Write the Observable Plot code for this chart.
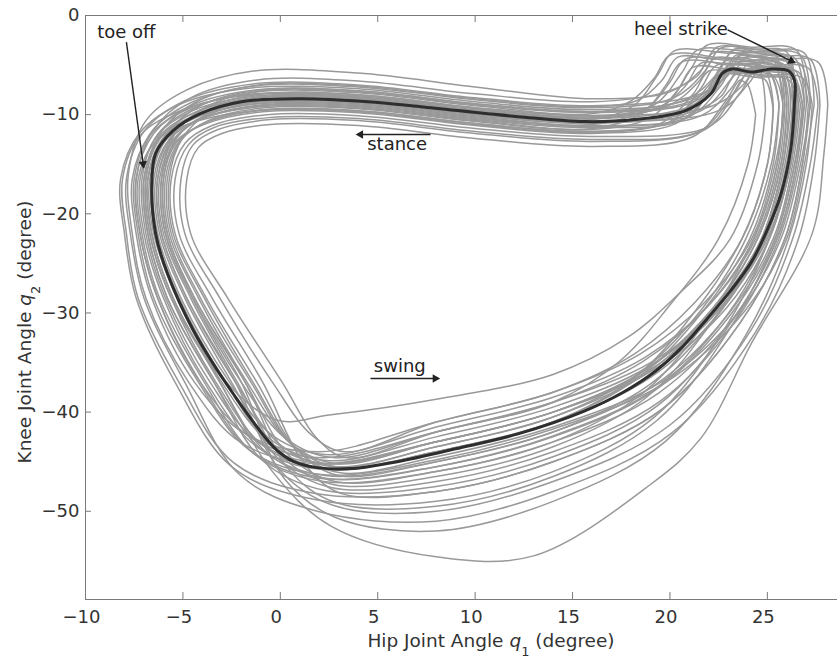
<!DOCTYPE html>
<html>
<head>
<meta charset="utf-8">
<script src="https://cdn.jsdelivr.net/npm/d3@7"></script>
<script src="https://cdn.jsdelivr.net/npm/@observablehq/plot@0.6"></script>
<style>
  html, body { margin: 0; padding: 0; background: #fff; overflow: hidden; }
</style>
</head>
<body>
<div id="chart"></div>
<script>
// ---- axis set-up ----
const xTicks = [-10, -5, 0, 5, 10, 15, 20, 25];
const yTicks = [0, -10, -20, -30, -40, -50];
const xDomain = [-10, 28.6];
const yDomain = [-58.9, 0];

// ---- annotations ----
const noteLabels = ["toe off", "heel strike", "stance", "swing"];
const noteX = [-9.4, 18.15, 4.46, 4.8];
const noteY = [-1.66, -1.43, -13.03, -35.35];
const arrowFromX = [-7.90, 22.96, 7.71, 4.63];
const arrowFromY = [-2.69, -1.44, -12.0, -36.61];
const arrowHeadX = [-7.04, 26.23, 4.12, 7.95];
const arrowHeadY = [-14.96, -4.59, -12.0, -36.61];
const arrowAngle = [172.2, 116.0, 270, 90];

// ---- mean gait cycle (dark curve) [hip q1, knee q2] ----
const meanCycle = [[26.4,-8.5],[26.4,-6.6],[26.1,-5.6],[25.2,-5.4],[24.2,-5.7],[23.2,-5.4],[22.7,-5.8],[22.1,-7.9],[20.8,-9.6],[18.2,-10.5],[15.6,-10.7],[12.2,-10.2],[7.2,-9.2],[4.5,-8.7],[1,-8.4],[-2,-8.7],[-4.1,-9.9],[-5.5,-11.6],[-6.4,-13.9],[-6.6,-17.3],[-6.4,-22],[-5.8,-26],[-4.45,-31.8],[-2.4,-38.2],[-0.3,-43.6],[0.7,-45],[1.9,-45.6],[3.6,-45.7],[6,-45.0],[9,-43.7],[12.2,-42.2],[15.6,-39.9],[17.6,-38.0],[19.3,-35.8],[20.7,-33.3],[21.9,-30.6],[23.1,-27.8],[24.2,-24.8],[25.0,-21.6],[25.7,-18],[26.2,-13.5],[26.4,-8.5]];

// ---- individual gait cycles (gray curves) ----
const cycle01 = [[26.4,-9],[25.9,-5.0],[24.4,-4.7],[22.9,-4.5],[22.1,-6.8],[20.5,-9.7],[16,-10.7],[10,-9.9],[4,-8.6],[-1,-8.5],[-4.1,-9.9],[-5.8,-12.3],[-6.6,-16.5],[-6.4,-22],[-5.2,-28.5],[-2.8,-37],[-0.4,-43.5],[2.5,-45.8],[8,-44],[14,-41],[19,-36.5],[22.6,-29.8],[24.9,-22.5],[26,-15],[26.4,-9]];
const cycle02 = [[25.8,-9],[25.3,-4.5],[24.3,-4.2],[23.4,-4.0],[22.6,-6.3],[21.0,-8.7],[16,-9.7],[10,-8.9],[4,-7.6],[-1.2,-7.5],[-4.6,-9.1],[-6.5,-11.9],[-7.4,-16.5],[-7.2,-22],[-6.3,-28.5],[-4.1,-37],[-1.4,-42.7],[2.1,-44.6],[8,-42],[14,-39],[18.6,-34.9],[22,-29.2],[24.3,-22.5],[25.5,-15],[25.8,-9]];
const cycle03 = [[26.9,-9],[26.4,-5.5],[24.5,-5.2],[22.4,-5.0],[21.6,-7.3],[20.0,-10.7],[16,-11.7],[10,-10.9],[4,-9.6],[-0.8,-9.5],[-3.7,-10.7],[-5.3,-12.7],[-6.0,-16.5],[-5.8,-22],[-4.4,-28.5],[-1.8,-37],[0.4,-44.3],[2.8,-47.0],[8,-46],[14,-43],[19.4,-38.1],[23.3,-30.4],[25.5,-22.5],[26.5,-15],[26.9,-9]];
const cycle04 = [[27.2,-9],[26.7,-4.0],[24.2,-3.7],[21.4,-3.5],[20.6,-5.8],[19.2,-9.0],[16,-10.2],[10,-9.4],[4,-8.1],[-1.5,-8.0],[-5.0,-9.5],[-7.2,-12.1],[-8.1,-16.5],[-7.9,-22],[-7.3,-28.5],[-5.2,-37],[-2.4,-45.1],[1.8,-48.2],[8,-48],[14,-45],[19.6,-39.7],[23.6,-31.0],[25.9,-22.5],[26.8,-15],[27.2,-9]];
const cycle05 = [[25.3,-9.5],[24.9,-6.5],[24.3,-6.2],[23.9,-6.0],[23.1,-8.3],[21.5,-11.7],[16,-12.7],[10,-11.9],[4,-10.6],[-0.5,-10.5],[-3.2,-11.5],[-4.5,-13.1],[-5.1,-16.5],[-4.9,-22],[-3.1,-28.5],[-0.4,-37],[1.6,-42.3],[3.3,-44.0],[8,-41],[14,-38],[18.2,-34.1],[21.3,-28.9],[23.7,-22.5],[25,-15],[25.3,-9.5]];
const cycle06 = [[26.5,-9],[26.0,-3.7],[24.2,-3.4],[22.4,-3.2],[21.6,-5.5],[20.0,-7.7],[16,-8.4],[10,-7.2],[4,-5.8],[-1.4,-5.6],[-4.8,-7.5],[-6.9,-10.6],[-7.8,-16.0],[-7.6,-22],[-6.9,-28.5],[-4.7,-37],[-2.0,-43.1],[1.9,-45.2],[8,-43],[14,-40],[19,-35.7],[22.6,-29.5],[24.9,-22.5],[26,-15],[26.5,-9]];
const cycle07 = [[27.6,-9],[27.1,-5.3],[25.3,-5.0],[23.4,-4.8],[22.6,-7.1],[21.0,-10.2],[16,-11.2],[10,-10.4],[4,-9.1],[-0.9,-9.0],[-3.9,-10.3],[-5.5,-12.5],[-6.3,-16.5],[-6.1,-22],[-4.8,-28.5],[-2.3,-37],[0,-45.9],[2.7,-49.4],[8,-50],[14,-47],[20,-41.3],[24.2,-31.6],[26.3,-22.5],[27.2,-15],[27.6,-9]];
const cycle08 = [[24.9,-9.5],[24.4,-4.7],[22.2,-4.4],[20.4,-4.2],[19.6,-6.5],[18.4,-8.5],[16,-9.2],[10,-8.4],[4,-7.1],[-1.1,-7.0],[-4.3,-8.7],[-6.1,-11.7],[-6.9,-16.5],[-6.7,-22],[-5.6,-28.5],[-3.0,-36.5],[-0.2,-40.8],[2.5,-40.3],[8,-38.7],[14,-36.2],[17.8,-32.5],[20.6,-27.8],[23.1,-22.5],[24.5,-15],[24.9,-9.5]];
const cycle09 = [[26.7,-9],[26.2,-6.0],[25.3,-5.7],[24.4,-5.5],[23.6,-7.8],[22.0,-11.2],[16,-12.2],[10,-11.4],[4,-10.1],[-0.7,-10.0],[-3.5,-11.1],[-4.9,-12.9],[-5.6,-16.5],[-5.4,-22],[-3.8,-28.5],[-1.2,-37],[0.9,-43.9],[3.0,-46.4],[8,-45],[14,-42],[19.2,-37.3],[23,-30.1],[25.3,-22.5],[26.3,-15],[26.7,-9]];
const cycle10 = [[26.0,-9],[25.5,-4.6],[22.8,-4.3],[20.0,-4.0],[19.2,-6.3],[18.0,-8.6],[16,-9.9],[10,-9.1],[4,-7.8],[-1.2,-7.7],[-4.4,-9.3],[-6.3,-12.0],[-7.1,-16.5],[-6.9,-22],[-5.9,-28.5],[-3.6,-37],[-1.1,-43.1],[2.3,-45.2],[8,-43],[14,-40],[18.8,-35.7],[22.2,-29.5],[24.5,-22.5],[25.7,-15],[26.0,-9]];
const cycle11 = [[24.4,-10],[24.0,-7.0],[23.8,-6.7],[23.6,-6.5],[22.8,-8.8],[21.2,-12.2],[16,-13.2],[10,-12.4],[4,-11.1],[-0.5,-11.0],[-3.0,-11.9],[-4.2,-13.3],[-4.8,-16.5],[-4.6,-22],[-2.7,-28.5],[0.1,-37],[1.9,-42.7],[3.4,-44.6],[8,-42],[14,-39],[17.4,-34.9],[20,-29.2],[22.5,-22.5],[24,-15],[24.4,-10]];
const cycle12 = [[27,-9],[26.5,-3.5],[24.2,-3.2],[21.9,-3.0],[21.1,-5.3],[19.7,-9.0],[16,-10.4],[10,-9.6],[4,-8.3],[-0.9,-8.2],[-4.0,-9.7],[-5.6,-12.2],[-6.4,-16.5],[-6.2,-22],[-4.9,-28.5],[-2.5,-37],[-0.1,-44.7],[2.6,-47.6],[8,-47],[14,-44],[19.5,-38.9],[23.4,-30.7],[25.6,-22.5],[26.6,-15],[27,-9]];
const cycle13 = [[26.5,-9],[26.0,-4.1],[24.6,-3.8],[23.2,-3.6],[22.4,-5.9],[20.8,-8.5],[16,-9.5],[10,-8.7],[4,-7.4],[-1.5,-7.3],[-5.1,-8.9],[-7.2,-11.8],[-8.2,-16.5],[-8.0,-22],[-7.4,-28.5],[-5.4,-37],[-2.5,-45.5],[1.7,-48.8],[8,-49],[14,-46],[19.2,-40.5],[22.9,-31.3],[25.1,-22.5],[26.2,-15],[26.5,-9]];
const cycle14 = [[25.6,-9],[25.1,-5.7],[23.0,-5.4],[21.2,-5.2],[20.4,-7.5],[19.0,-10.3],[16,-11.5],[10,-10.7],[4,-9.4],[-0.8,-9.3],[-3.6,-10.5],[-5.1,-12.6],[-5.8,-16.5],[-5.6,-22],[-4.1,-28.5],[-1.5,-37],[0.6,-43.3],[2.9,-45.5],[8,-43.5],[14,-40.5],[18.4,-36.1],[21.6,-29.7],[23.9,-22.5],[25.2,-15],[25.6,-9]];
const cycle15 = [[28.1,-9],[27.6,-4.7],[25.6,-4.4],[23.9,-4.2],[23.1,-6.5],[21.5,-9.7],[16,-10.7],[10,-9.9],[4,-8.6],[-1.1,-8.5],[-4.2,-9.9],[-6.0,-12.3],[-6.8,-16.5],[-6.6,-22],[-5.5,-28.5],[-3.1,-37],[-0.4,-46.0],[2.6,-51.5],[8,-54.6],[13,-54.5],[19,-47.3],[21.6,-42.6],[24.2,-33],[27.3,-22],[27.9,-14],[28.1,-9]];
const cycle16 = [[27.3,-9],[26.8,-6.3],[24.8,-6.0],[22.7,-5.8],[21.9,-8.1],[20.3,-10.9],[16,-11.9],[10,-11.1],[4,-9.8],[-0.9,-9.7],[-3.8,-10.9],[-5.4,-12.8],[-6.1,-16.5],[-5.9,-22],[-4.5,-28.5],[-2.0,-37],[0.2,-46.7],[2.8,-50.6],[8,-52],[14,-49],[19.8,-42.9],[23.9,-32.2],[26.1,-22.5],[27,-15],[27.3,-9]];
const cycle17 = [[25.9,-9],[25.4,-5.1],[25.0,-4.8],[24.6,-4.6],[23.8,-6.9],[22.2,-9.1],[16,-10.1],[10,-9.3],[4,-8.0],[-1.3,-7.9],[-4.7,-9.4],[-6.7,-12.1],[-7.6,-16.5],[-7.4,-22],[-6.6,-28.5],[-4.4,-37],[-1.7,-42.3],[2.0,-44.0],[8,-41],[14,-38],[18.5,-34.1],[21.8,-28.9],[24.2,-22.5],[25.4,-15],[25.9,-9]];
const cycle18 = [[26.9,-9],[26.4,-4.3],[24.3,-4.0],[22.2,-3.8],[21.4,-6.1],[19.8,-7.7],[16,-8.7],[10,-7.9],[4,-6.6],[-1.2,-6.5],[-4.6,-8.3],[-6.5,-11.5],[-7.4,-16.5],[-7.2,-22],[-6.3,-28.5],[-4.1,-37],[-1.4,-44.1],[2.1,-46.7],[8,-45.5],[14,-42.5],[19.3,-37.7],[23.1,-30.2],[25.4,-22.5],[26.4,-15],[26.9,-9]];
const cycle19 = [[26.2,-9],[25.7,-4.9],[23.2,-4.6],[20.8,-4.4],[20.0,-6.7],[18.8,-9.4],[16,-11.0],[10,-10.2],[4,-8.9],[-0.9,-8.8],[-3.9,-10.1],[-5.4,-12.4],[-6.2,-16.5],[-6.0,-22],[-4.6,-28.5],[-2.2,-37],[0.1,-44.5],[2.7,-47.3],[8,-46.5],[14,-43.5],[18.8,-38.5],[22.3,-30.5],[24.7,-22.5],[25.8,-15],[26.2,-9]];
const cycle20 = [[26.3,-9],[25.8,-5.5],[24.4,-5.2],[23.0,-5.0],[22.2,-7.3],[20.6,-8.7],[16,-9.7],[10,-8.9],[4,-7.6],[-1,-7.5],[-4.1,-9.1],[-5.8,-11.9],[-6.6,-16.5],[-6.4,-22],[-5.2,-28.5],[-2.8,-37],[-0.4,-42.9],[2.5,-44.9],[8,-42.5],[14,-39.5],[19,-35.3],[22.6,-29.4],[24.9,-22.5],[26,-15],[26.3,-9]];
const cycle21 = [[27.1,-9],[26.6,-5.7],[25.4,-5.4],[24.2,-5.2],[23.4,-7.5],[21.8,-11.5],[16,-12.5],[10,-11.7],[4,-10.4],[-0.6,-10.3],[-3.4,-11.3],[-4.7,-13.0],[-5.4,-16.5],[-5.2,-22],[-3.5,-28.5],[-0.9,-37],[1.2,-45.1],[3.1,-48.2],[8,-48],[14,-45],[19.6,-39.7],[23.6,-31.0],[25.9,-22.5],[26.8,-15],[27.1,-9]];
const cycle22 = [[25.3,-9],[24.8,-5.3],[23.0,-5.0],[21.6,-4.8],[20.8,-7.1],[19.4,-9.3],[16,-10.3],[10,-9.5],[4,-8.2],[-1.2,-8.1],[-4.5,-9.6],[-6.3,-12.1],[-7.2,-16.5],[-7.0,-22],[-6.0,-28.5],[-3.8,-37],[-1.2,-43.5],[2.2,-45.8],[8,-44],[14,-41],[18.2,-36.5],[21.3,-29.8],[23.7,-22.5],[25,-15],[25.3,-9]];
const cycle23 = [[25.9,-9],[25.4,-3.9],[24.3,-3.6],[23.3,-3.4],[22.5,-5.7],[20.9,-10.3],[16,-11.3],[10,-10.5],[4,-9.2],[-1,-9.1],[-4.0,-10.4],[-5.7,-12.5],[-6.5,-16.5],[-6.3,-22],[-5.1,-28.5],[-2.6,-37],[-0.3,-42.5],[2.5,-44.3],[8,-41.5],[14,-38.5],[18.7,-34.5],[22.1,-29.0],[24.4,-22.5],[25.6,-15],[25.9,-9]];
const cycle24 = [[27.7,-9],[27.2,-4.4],[25.5,-4.1],[23.7,-3.9],[22.9,-6.2],[21.3,-8.1],[16,-9.1],[10,-8.3],[4,-7.0],[-1.4,-6.9],[-4.9,-8.6],[-7.0,-11.7],[-7.9,-16.5],[-7.7,-22],[-7.0,-28.5],[-4.9,-37],[-2.1,-46.3],[1.9,-50.0],[8,-51],[14,-48],[20.1,-42.1],[24.4,-31.9],[26.6,-22.5],[27.4,-15],[27.7,-9]];
const cycle25 = [[26.6,-9],[26.1,-6.5],[24.3,-6.2],[22.5,-6.0],[21.7,-8.3],[20.1,-10.7],[16,-11.7],[10,-10.9],[4,-9.6],[-0.8,-9.5],[-3.7,-10.7],[-5.2,-12.7],[-5.9,-16.5],[-5.7,-22],[-4.2,-28.5],[-1.7,-37],[0.5,-43.1],[2.9,-45.2],[8,-43],[14,-40],[19.2,-35.7],[22.9,-29.5],[25.1,-22.5],[26.2,-15],[26.6,-9]];
const cycle26 = [[26.3,-9],[25.8,-4.1],[23.0,-3.8],[20.2,-3.6],[19.4,-5.9],[18.2,-9.0],[16,-10.5],[10,-9.7],[4,-8.4],[-1.1,-8.3],[-4.3,-9.7],[-6.2,-12.2],[-7.0,-16.5],[-6.8,-22],[-5.8,-28.5],[-3.4,-37],[-0.9,-43.9],[2.3,-46.4],[8,-45],[14,-42],[18.9,-37.3],[22.5,-30.1],[24.8,-22.5],[25.9,-15],[26.3,-9]];
const cycle27 = [[26.6,-9],[26.1,-5.4],[24.9,-5.1],[24.0,-4.9],[23.2,-7.2],[21.6,-10.1],[16,-11.1],[10,-10.3],[4,-9.0],[-1.1,-8.9],[-4.2,-10.2],[-6.0,-12.5],[-6.8,-16.5],[-6.6,-22],[-5.5,-28.5],[-3.1,-37],[-0.7,-44.1],[2.4,-46.7],[8,-45.5],[14,-42.4],[19.2,-37.7],[22.9,-30.3],[25.1,-22.5],[26.2,-15],[26.6,-9]];
const cycle28 = [[26.0,-9],[25.5,-4.8],[23.8,-4.5],[22.3,-4.3],[21.5,-6.6],[19.9,-9.1],[16,-10.1],[10,-9.3],[4,-8.0],[-0.9,-7.9],[-3.9,-9.4],[-5.5,-12.1],[-6.3,-16.5],[-6.1,-22],[-4.8,-28.5],[-2.3,-37],[0,-43.3],[2.7,-45.5],[8,-43.5],[14,-40.5],[18.8,-36.1],[22.2,-29.7],[24.5,-22.5],[25.7,-15],[26.0,-9]];
const cycle29 = [[26.8,-9],[26.3,-5.9],[24.6,-5.6],[22.8,-5.4],[22.0,-7.7],[20.4,-9.9],[16,-10.9],[10,-10.1],[4,-8.8],[-1.1,-8.7],[-4.3,-10.0],[-6.2,-12.4],[-7.0,-16.5],[-6.8,-22],[-5.8,-28.5],[-3.4,-37],[-0.9,-44.9],[2.3,-47.9],[8,-47.5],[14,-44.5],[19.4,-39.3],[23.2,-30.8],[25.5,-22.5],[26.5,-15],[26.8,-9]];
const cycle30 = [[26.5,-9],[26.0,-4.6],[24.7,-4.3],[23.5,-4.1],[22.7,-6.4],[21.1,-8.8],[16,-9.8],[10,-9.0],[4,-7.7],[-0.9,-7.6],[-3.8,-9.2],[-5.4,-11.9],[-6.1,-16.5],[-5.9,-22],[-4.5,-28.5],[-2.0,-37],[0.3,-42.7],[2.8,-44.6],[8,-42],[14,-39],[19.1,-34.9],[22.7,-29.2],[25.0,-22.5],[26.1,-15],[26.5,-9]];
const cycle31 = [[25.8,-9],[25.3,-6.1],[23.5,-5.8],[22.0,-5.6],[21.2,-7.9],[19.6,-10.8],[16,-11.8],[10,-11.0],[4,-9.7],[-1.2,-9.6],[-4.5,-10.8],[-6.4,-12.7],[-7.3,-16.5],[-7.1,-22],[-6.2,-28.5],[-3.9,-37],[-1.3,-44.3],[2.2,-47.0],[8,-46],[14,-43],[18.6,-38.1],[22,-30.4],[24.3,-22.5],[25.5,-15],[25.8,-9]];
const cycle32 = [[27.2,-9],[26.7,-4.9],[25.9,-4.6],[24.9,-4.4],[24.1,-6.7],[22.5,-9.6],[16,-10.6],[10,-9.8],[4,-8.5],[-0.7,-8.4],[-3.6,-9.8],[-5.0,-12.3],[-5.7,-16.5],[-5.5,-22],[-3.9,-28.5],[-1.4,-37],[0.8,-43.7],[3.0,-46.1],[8,-44.5],[14,-41.5],[19.6,-36.9],[23.5,-30],[25.7,-22.5],[26.7,-15],[27.2,-9]];
const cycle33 = [[26.1,-9],[25.6,-5.2],[23.0,-4.9],[20.6,-4.7],[19.8,-7.0],[18.6,-9.8],[16,-11.4],[10,-10.6],[4,-9.3],[-1,-9.2],[-4.2,-10.5],[-5.9,-12.6],[-6.7,-16.5],[-6.5,-22],[-5.3,-28.5],[-3.0,-37],[-0.5,-43.1],[2.4,-45.2],[8,-43],[14,-40],[18.8,-35.7],[22.3,-29.5],[24.7,-22.5],[25.8,-15],[26.1,-9]];
const cycle34 = [[27.4,-9],[26.9,-3.8],[24.8,-3.5],[22.6,-3.3],[21.8,-5.6],[20.2,-8.3],[16,-9.3],[10,-8.5],[4,-7.2],[-1.3,-7.1],[-4.6,-8.8],[-6.6,-11.7],[-7.5,-16.5],[-7.3,-22],[-6.5,-28.5],[-4.2,-37],[-1.6,-43.8],[2.1,-46.3],[8,-44.8],[14,-41.7],[19.7,-37.1],[23.8,-29.9],[26,-22.5],[26.9,-15],[27.4,-9]];
const cycle35 = [[26.8,-9],[26.3,-6.4],[24.8,-6.1],[23.4,-5.9],[22.6,-8.2],[21.0,-9.8],[16,-10.8],[10,-10.0],[4,-8.7],[-0.8,-8.6],[-3.7,-10.0],[-5.3,-12.3],[-6.0,-16.5],[-5.8,-22],[-4.4,-28.5],[-1.8,-37],[0.4,-45.7],[2.8,-49.1],[8,-49.5],[14,-46.5],[19.3,-40.9],[23.1,-31.5],[25.4,-22.5],[26.4,-15],[26.8,-9]];
const cycle36 = [[25.6,-9],[25.1,-5.8],[24.0,-5.5],[23.1,-5.3],[22.3,-7.6],[20.7,-9.4],[16,-10.4],[10,-9.6],[4,-8.3],[-1.1,-8.2],[-4.3,-9.7],[-6.1,-12.2],[-6.9,-16.5],[-6.7,-22],[-5.6,-28.5],[-3.3,-37],[-0.8,-43.5],[2.4,-45.8],[8,-44],[14,-41],[18.4,-36.5],[21.7,-29.8],[24.1,-22.5],[25.3,-15],[25.6,-9]];

const cycles = [cycle01, cycle02, cycle03, cycle04, cycle05, cycle06, cycle07, cycle08, cycle09, cycle10, cycle11, cycle12,
                cycle13, cycle14, cycle15, cycle16, cycle17, cycle18, cycle19, cycle20, cycle21, cycle22, cycle23, cycle24,
                cycle25, cycle26, cycle27, cycle28, cycle29, cycle30, cycle31, cycle32, cycle33, cycle34, cycle35, cycle36];

// ---- tables for the library ----
const cycleRows = cycles.flatMap((c, i) => c.map(([x, y]) => ({cycle: i, x, y})));
const meanRows = meanCycle.map(([x, y]) => ({x, y}));
const notes = noteLabels.map((label, i) => ({
  label, tx: noteX[i], ty: noteY[i],
  fx: arrowFromX[i], fy: arrowFromY[i], hx: arrowHeadX[i], hy: arrowHeadY[i], angle: arrowAngle[i]
}));

const axisColor = "#7a7a7a";
const textColor = "#333";
const FONT = "'DejaVu Sans', 'Liberation Sans', sans-serif";

const chart = Plot.plot({
  width: 837,
  height: 658,
  marginLeft: 85,
  marginRight: 0,
  marginTop: 15,
  marginBottom: 59,
  x: {domain: xDomain},
  y: {domain: yDomain},
  style: {fontFamily: FONT, fontSize: "18px", color: textColor, background: "#fff"},
  marks: [
    Plot.line(cycleRows, {x: "x", y: "y", z: "cycle", stroke: "#999", strokeWidth: 1.5, curve: "catmull-rom"}),
    Plot.line(meanRows, {x: "x", y: "y", stroke: "#2e2e2e", strokeWidth: 3, curve: "catmull-rom"}),
    Plot.link(notes, {x1: "fx", y1: "fy", x2: "hx", y2: "hy", stroke: "#222", strokeWidth: 1.4}),
    Plot.dot(notes, {x: "hx", y: "hy", symbol: "triangle", r: 3.2, fill: "#222", stroke: "none", rotate: "angle"}),
    Plot.text(notes, {x: "tx", y: "ty", text: "label", textAnchor: "start", fontSize: 18, fill: "#222"}),
    // frame (top, bottom, left)
    Plot.ruleY([yDomain[1]], {stroke: axisColor}),
    Plot.ruleY([yDomain[0]], {stroke: axisColor}),
    Plot.ruleX([xDomain[0]], {stroke: axisColor}),
    // inward ticks
    Plot.ruleX(xTicks, {x: d => d, insetTop: 577, stroke: axisColor}),
    Plot.ruleX(xTicks, {x: d => d, insetBottom: 577, stroke: axisColor}),
    Plot.ruleY(yTicks, {y: d => d, insetRight: 746, stroke: axisColor}),
    // tick labels
    Plot.axisX({ticks: xTicks, tickSize: 0, tickPadding: 11, dx: -4, label: null, fontSize: 18}),
    Plot.axisY({ticks: yTicks, tickSize: 0, tickPadding: 6, label: null, fontSize: 18})
  ]
});

document.getElementById("chart").appendChild(chart);

// axis titles with italic symbol and subscript
const svg = d3.select(chart);
const xt = svg.append("text")
  .attr("x", 491).attr("y", 647)
  .attr("text-anchor", "middle")
  .attr("font-family", FONT).attr("font-size", 18.5).attr("fill", textColor);
xt.append("tspan").text("Hip Joint Angle ");
xt.append("tspan").attr("font-style", "italic").text("q");
xt.append("tspan").attr("font-size", 13).attr("dy", 9).text("1");
xt.append("tspan").attr("dy", -9).text(" (degree)");

const yt = svg.append("text")
  .attr("transform", "translate(31,332) rotate(-90)")
  .attr("text-anchor", "middle")
  .attr("font-family", FONT).attr("font-size", 18.5).attr("fill", textColor);
yt.append("tspan").text("Knee Joint Angle ");
yt.append("tspan").attr("font-style", "italic").text("q");
yt.append("tspan").attr("font-size", 13).attr("dy", 9).text("2");
yt.append("tspan").attr("dy", -9).text(" (degree)");
</script>
</body>
</html>
